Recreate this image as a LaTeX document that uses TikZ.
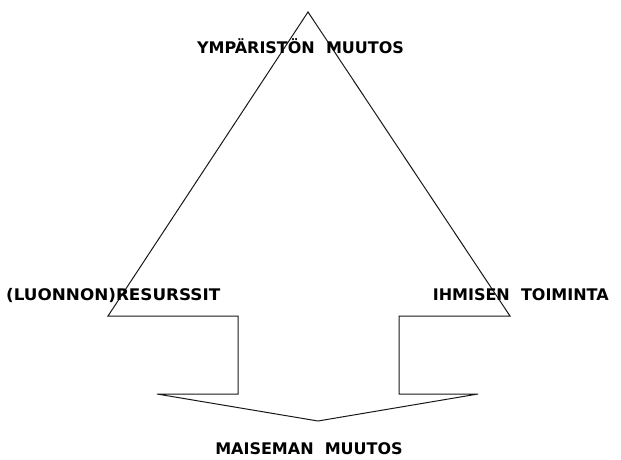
\documentclass[tikz,border=0pt]{standalone}
\usepackage{fontspec}
\setmainfont{DejaVu Sans}
\begin{document}
\begin{tikzpicture}[x=1pt,y=-1pt,
  lbl/.style={font=\fontsize{16}{19}\selectfont\bfseries, inner sep=0pt, text=black},
  edge/.style={line width=1pt, draw=black!90}]
\useasboundingbox[fill=white] (0,0) rectangle (621,459);
% triangle with gap at the bottom
\coordinate (apex) at (308,12);
\coordinate (bl) at (108,316);
\coordinate (br) at (510,316);
\coordinate (gl) at (238,316);
\coordinate (gr) at (399,316);
\coordinate (sl) at (238,394);
\coordinate (sr) at (399,394);
\coordinate (hl) at (157,394);
\coordinate (hr) at (478,394);
\coordinate (tip) at (318,421);
\draw[edge] (gl) -- (bl) -- (apex) -- (br) -- (gr) -- (sr) -- (hr) -- (tip) -- (hl) -- (sl) -- cycle;
% labels
\node[lbl] (top) at (300.5,46) {YMPÄRISTÖN\ \ MUUTOS};
\node[lbl, anchor=west] (left) at (6,295) {\scalebox{1.05}[1]{(LUONNON)RESURSSIT}};
\node[lbl, anchor=east] (right) at (609,295) {IHMISEN\ \ TOIMINTA};
\node[lbl] (bottom) at (309,449) {MAISEMAN\ \ MUUTOS};
\end{tikzpicture}
\end{document}
